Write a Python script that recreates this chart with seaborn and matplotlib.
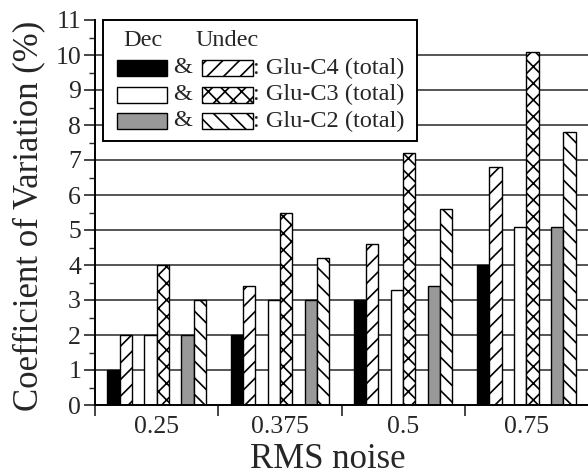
import numpy as np
import pandas as pd
import matplotlib
matplotlib.use("Agg")
import matplotlib.pyplot as plt
from matplotlib.patches import Rectangle
import seaborn as sns

# data
noise = ["0.25", "0.375", "0.5", "0.75"]
series = ["Dec C4", "Undec C4", "Dec C3", "Undec C3", "Dec C2", "Undec C2"]
dec_c4 = [1, 2, 3, 4]
undec_c4 = [2, 3.4, 4.6, 6.8]
dec_c3 = [2, 3, 3.3, 5.1]
undec_c3 = [4, 5.5, 7.2, 10.1]
dec_c2 = [2, 3, 3.4, 5.1]
undec_c2 = [3, 4.2, 5.6, 7.8]
legend_rows = [": Glu-C4 (total)", ": Glu-C3 (total)", ": Glu-C2 (total)"]

colors = ["black", "white", "white", "white", "#999999", "white"]
hatches = [None, "//", None, "xx", None, "\\\\"]

values = [dec_c4, undec_c4, dec_c3, undec_c3, dec_c2, undec_c2]
rows = []
for k, name in enumerate(series):
    for g in range(len(noise)):
        # bars come in pairs (Dec, Undec) with a gap between pairs
        pos = round(g + 0.15 + 0.3 * (k // 2) + 0.1 * (k % 2), 3)
        rows.append({"pos": pos, "value": values[k][g], "series": name})
df = pd.DataFrame(rows)

sns.set_style("ticks")
plt.rcParams["font.family"] = ["Liberation Serif", "DejaVu Serif"]
plt.rcParams["hatch.linewidth"] = 1.2

W, H = 588, 476
fig = plt.figure(figsize=(W / 100, H / 100), dpi=100)
ax = fig.add_axes([95 / W, 1 - 405 / H, 493 / W, 385 / H])

ax.hlines(range(1, 11), 0, 4, color="#555555", lw=1.4, zorder=0.5)

sns.barplot(data=df, x="pos", y="value", hue="series", hue_order=series,
            palette=colors, native_scale=True, dodge=False, width=1.0,
            saturation=1, errorbar=None, edgecolor="black", linewidth=1.0,
            legend=False, ax=ax, zorder=2)

for cont, h in zip(ax.containers, hatches):
    for bar in cont:
        if h:
            bar.set_hatch(h)

ax.set_xlim(0, 4)
ax.set_ylim(0, 11)
ax.set_yticks(range(0, 12))
ax.set_yticks(np.arange(0.5, 11, 1), minor=True)
ax.set_xticks([0.5, 1.5, 2.5, 3.5])
ax.set_xticklabels(noise)
ax.set_xticks([0, 1, 2, 3], minor=True)
ax.tick_params(axis="x", which="major", length=0, labelsize=18.5, pad=8)
ax.tick_params(axis="x", which="minor", length=8, width=1.2, direction="out")
ax.tick_params(axis="y", which="major", length=8, width=1.2, labelsize=18.5, pad=2)
ax.tick_params(axis="y", which="minor", length=4, width=1.0)
sns.despine(ax=ax)
for s in ["left", "bottom"]:
    ax.spines[s].set_linewidth(1.4)
    ax.spines[s].set_color("black")

ax.set_xlabel("RMS noise", fontsize=25)
ax.xaxis.set_label_coords((328 - 95) / 493, -0.1)
ax.set_ylabel("Coefficient of Variation (%)", fontsize=25)
ax.yaxis.set_label_coords(-0.1, 0.49)


# hand-built legend box, "Dec & Undec" pairs
def fx(x):
    return x / W


def fy(y):
    return 1 - y / H


fig.add_artist(Rectangle((fx(103), fy(141)), fx(417) - fx(103), fy(20) - fy(141),
                         transform=fig.transFigure, facecolor="white",
                         edgecolor="black", lw=1.4, zorder=5))
fig.text(fx(123), fy(46), "Dec", fontsize=17.5, va="baseline", zorder=6)
fig.text(fx(196), fy(46), "Undec", fontsize=17.5, va="baseline", zorder=6)
for i, lab in enumerate(legend_rows):
    yc = 68 + 26.5 * i
    k = 2 * i
    fig.add_artist(Rectangle((fx(117), fy(yc + 8)), fx(50), 16 / H,
                             transform=fig.transFigure, facecolor=colors[k],
                             edgecolor="black", lw=1.0, zorder=6))
    fig.text(fx(183), fy(yc), "&", fontsize=17.5, ha="center", va="center", zorder=6)
    fig.add_artist(Rectangle((fx(202), fy(yc + 8)), fx(51), 16 / H,
                             transform=fig.transFigure, facecolor="white",
                             edgecolor="black", lw=1.0, hatch=hatches[k + 1],
                             zorder=6))
    fig.text(fx(253), fy(yc), lab, fontsize=17.5, va="center", zorder=6)

fig.savefig("out.png", dpi=100)
